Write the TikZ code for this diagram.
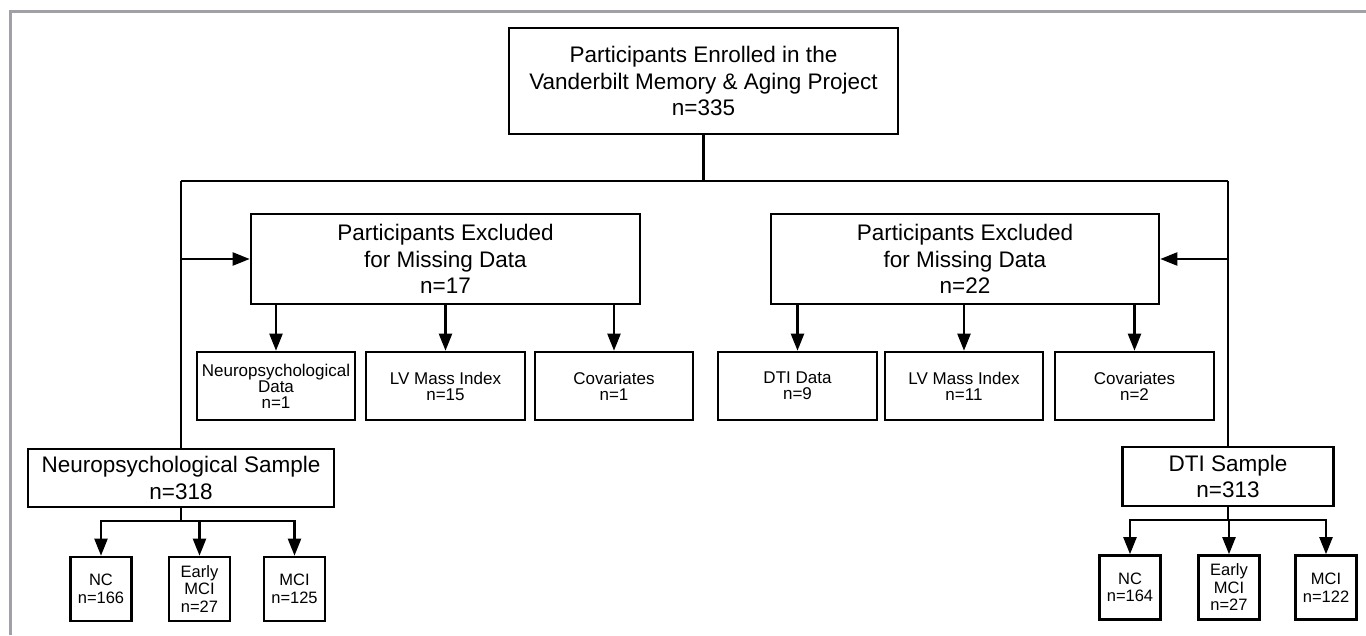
\documentclass[tikz,border=0pt]{standalone}
\usepackage{fontspec}
\setmainfont{Liberation Sans}
\usepackage{tikz}
\usetikzlibrary{arrows.meta,positioning,calc}

\definecolor{framegray}{RGB}{160,160,166}

\begin{document}
\begin{tikzpicture}[x=1pt,y=-1pt,
		>={Triangle[length=17pt,width=13pt]},
		bigbox/.style={draw,line width=2.6pt,align=center,inner sep=2pt,font=\fontsize{22.5}{26.5}\selectfont},
		subbox/.style={draw,line width=2.6pt,align=center,inner sep=1pt,minimum height=68pt,font=\fontsize{17}{16}\selectfont},
		catbox/.style={draw,line width=2.6pt,align=center,inner sep=1pt,minimum width=61pt,minimum height=64pt,font=\fontsize{16.5}{17.5}\selectfont},
		link/.style={line width=2.2pt}]
		\useasboundingbox (0,0) rectangle (1366,635);
		\draw[framegray,line width=3pt] (1366,11) -- (10,11) -- (10,635);
		
		\node[bigbox,minimum width=389pt,minimum height=106pt] (enrolled) at (703.5,81) {Participants Enrolled in the\\Vanderbilt Memory \& Aging Project\\n=335};
		\node[bigbox,minimum width=389pt,minimum height=90pt] (exclNeuro) at (445.5,259) {Participants Excluded\\for Missing Data\\n=17};
		\node[bigbox,minimum width=388pt,minimum height=90pt] (exclDti) at (965,259) {Participants Excluded\\for Missing Data\\n=22};
		
		\node[subbox,minimum width=158pt] (missNeuro) at (276,386) {Neuropsychological\\Data\\n=1};
		\node[subbox,minimum width=159pt] (missLvA) at (445.5,386) {LV Mass Index\\n=15};
		\node[subbox,minimum width=158pt] (missCovA) at (614,386) {Covariates\\n=1};
		\node[subbox,minimum width=159pt] (missDti) at (797.5,386) {DTI Data\\n=9};
		\node[subbox,minimum width=158pt] (missLvB) at (964,386) {LV Mass Index\\n=11};
		\node[subbox,minimum width=159pt] (missCovB) at (1134.5,386) {Covariates\\n=2};
		
		\node[bigbox,minimum width=306pt,minimum height=58pt] (sampNeuro) at (181,478) {Neuropsychological Sample\\n=318};
		\node[bigbox,minimum width=211pt,minimum height=59pt] (sampDti) at (1228,476.5) {DTI Sample\\n=313};
		
		\node[catbox] (ncA) at (101,589) {NC\\n=166};
		\node[catbox] (emciA) at (199.5,589) {Early\\MCI\\n=27};
		\node[catbox] (mciA) at (294.5,589) {MCI\\n=125};
		\node[catbox] (ncB) at (1130,587.5) {NC\\n=164};
		\node[catbox] (emciB) at (1229,587.5) {Early\\MCI\\n=27};
		\node[catbox] (mciB) at (1326,587.5) {MCI\\n=122};
		
		\coordinate (splitL) at (181,181);
		\coordinate (splitR) at (1228,181);
		\coordinate (branchA) at (181,521);
		\coordinate (branchB) at (1228,520);
		
		\draw[link] (enrolled.south) -- (enrolled.south |- splitL);
		\draw[link] (splitL) -- (splitR);
		\draw[link] (splitL) -- (sampNeuro.north);
		\draw[link] (splitR) -- (sampDti.north);
		\draw[link,->] (splitL |- exclNeuro.west) -- (exclNeuro.west);
		\draw[link,->] (splitR |- exclDti.east) -- (exclDti.east);
		
		\foreach \m in {missNeuro,missLvA,missCovA}
		\draw[link,->] (exclNeuro.south -| \m.north) -- (\m.north);
		\foreach \m in {missDti,missLvB,missCovB}
		\draw[link,->] (exclDti.south -| \m.north) -- (\m.north);
		
		\draw[link] (sampNeuro.south) -- (branchA);
		\draw[link] (sampDti.south) -- (branchB);
		\foreach \c in {ncA,emciA,mciA}
		\draw[link,->] (branchA) -| (\c.north);
		\foreach \c in {ncB,emciB,mciB}
		\draw[link,->] (branchB) -| (\c.north);
	\end{tikzpicture}
\end{document}
